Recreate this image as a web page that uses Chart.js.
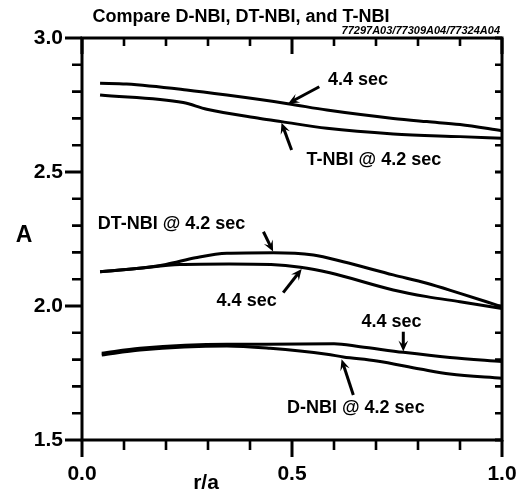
<!DOCTYPE html>
<html><head><meta charset="utf-8">
<script src="https://cdn.jsdelivr.net/npm/chart.js@4.4.1/dist/chart.umd.min.js"></script>
<style>html,body{margin:0;padding:0;background:#fff;}#wrap{width:521px;height:494px;}</style>
</head><body><div id="wrap"><canvas id="c" width="521" height="494"></canvas></div>
<script>
// ---------- text ----------
const chartTitle = 'Compare D-NBI, DT-NBI, and T-NBI';
const runCode = '77297A03/77309A04/77324A04';
const xAxisLabel = 'r/a';
const yAxisLabel = 'A';

// ---------- ticks ----------
const xMajorTicks = [0.0, 0.5, 1.0];
const yMajorTicks = [1.5, 2.0, 2.5, 3.0];
const xMinorTicks = [0.0, 0.1, 0.2, 0.3, 0.4, 0.5, 0.6, 0.7, 0.8, 0.9, 1.0];
const yMinorTicks = [1.5, 1.6, 1.7, 1.8, 1.9, 2.0, 2.1, 2.2, 2.3, 2.4, 2.5, 2.6, 2.7, 2.8, 2.9, 3.0];

// ---------- series (r/a, A) ----------
const tNbi44_r = [0.043, 0.106, 0.249, 0.345, 0.49, 0.583, 0.741, 0.821, 0.9, 1.0];
const tNbi44_A = [2.831, 2.828, 2.806, 2.787, 2.755, 2.731, 2.700, 2.688, 2.677, 2.654];

const tNbi42_r = [0.043, 0.241, 0.297, 0.424, 0.475, 0.583, 0.741, 0.9, 1.0];
const tNbi42_A = [2.787, 2.759, 2.734, 2.700, 2.688, 2.663, 2.642, 2.632, 2.626];

const dtNbi42_r = [0.043, 0.13, 0.2, 0.27, 0.345, 0.456, 0.551, 0.622, 0.741, 0.821, 0.9, 0.963, 1.0];
const dtNbi42_A = [2.128, 2.140, 2.155, 2.180, 2.197, 2.199, 2.190, 2.165, 2.116, 2.085, 2.047, 2.016, 1.997];

const dtNbi44_r = [0.043, 0.13, 0.233, 0.35, 0.45, 0.52, 0.59, 0.741, 0.821, 0.9, 1.0];
const dtNbi44_A = [2.128, 2.140, 2.155, 2.157, 2.155, 2.145, 2.124, 2.060, 2.035, 2.016, 1.991];

const dNbi44_r = [0.047, 0.138, 0.345, 0.44, 0.6, 0.662, 0.765, 0.876, 1.0];
const dNbi44_A = [1.824, 1.842, 1.857, 1.857, 1.859, 1.848, 1.827, 1.808, 1.793];

const dNbi42_r = [0.047, 0.138, 0.345, 0.448, 0.583, 0.622, 0.702, 0.805, 0.876, 1.0];
const dNbi42_A = [1.817, 1.836, 1.851, 1.842, 1.820, 1.810, 1.795, 1.765, 1.746, 1.730];

// ---------- annotations (text + arrow, in data units) ----------
const annotations = [
  {text: '4.4 sec',          at: [0.657, 2.843], tail: [0.565, 2.818], head: [0.491, 2.756]},
  {text: 'T-NBI @ 4.2 sec',  at: [0.695, 2.545], tail: [0.499, 2.582], head: [0.475, 2.684]},
  {text: 'DT-NBI @ 4.2 sec', at: [0.213, 2.306], tail: [0.432, 2.277], head: [0.455, 2.203]},
  {text: '4.4 sec',          at: [0.392, 2.019], tail: [0.479, 2.050], head: [0.523, 2.138]},
  {text: '4.4 sec',          at: [0.737, 1.941], tail: [0.765, 1.904], head: [0.765, 1.830]},
  {text: 'D-NBI @ 4.2 sec',  at: [0.652, 1.618], tail: [0.646, 1.668], head: [0.618, 1.801]}
];

const FONT = '"Liberation Sans", Arial, Helvetica, sans-serif';
const pts = (xs, ys) => xs.map((x, i) => ({x: x, y: ys[i]}));
const mkSet = (label, xs, ys) => ({
  label: label, data: pts(xs, ys), borderColor: '#000', borderWidth: 3,
  pointRadius: 0, fill: false, tension: 0.4, cubicInterpolationMode: 'monotone'
});

function drawArrow(ctx, x1, y1, x2, y2) {
  const ang = Math.atan2(y2 - y1, x2 - x1);
  const hl = 12, hw = 0.42;
  ctx.beginPath();
  ctx.moveTo(x1, y1);
  ctx.lineTo(x2 - Math.cos(ang) * 5, y2 - Math.sin(ang) * 5);
  ctx.stroke();
  ctx.beginPath();
  ctx.moveTo(x2, y2);
  ctx.lineTo(x2 - hl * Math.cos(ang - hw), y2 - hl * Math.sin(ang - hw));
  ctx.lineTo(x2 - hl * 0.55 * Math.cos(ang), y2 - hl * 0.55 * Math.sin(ang));
  ctx.lineTo(x2 - hl * Math.cos(ang + hw), y2 - hl * Math.sin(ang + hw));
  ctx.closePath();
  ctx.fill();
}

const framePlugin = {
  id: 'frame',
  beforeDraw(chart) {
    const ctx = chart.ctx;
    ctx.save();
    ctx.fillStyle = '#fff';
    ctx.fillRect(0, 0, chart.width, chart.height);
    ctx.restore();
  },
  afterDraw(chart) {
    const ctx = chart.ctx, a = chart.chartArea;
    const xs = chart.scales.x, ys = chart.scales.y;
    ctx.save();
    ctx.strokeStyle = '#000';
    ctx.fillStyle = '#000';
    ctx.lineCap = 'butt';
    // frame
    ctx.lineWidth = 3;
    ctx.beginPath();
    ctx.moveTo(a.left, a.top); ctx.lineTo(a.right, a.top);
    ctx.lineTo(a.right, a.bottom); ctx.lineTo(a.left, a.bottom);
    ctx.closePath();
    ctx.stroke();
    // y ticks
    yMinorTicks.forEach(v => {
      const y = ys.getPixelForValue(v);
      const major = yMajorTicks.some(m => Math.abs(m - v) < 1e-6);
      ctx.lineWidth = major ? 3 : 2.6;
      ctx.beginPath();
      ctx.moveTo(a.left, y); ctx.lineTo(a.left - (major ? 17 : 10), y);
      ctx.moveTo(a.right, y); ctx.lineTo(a.right - 7, y);
      ctx.stroke();
    });
    // x ticks
    xMinorTicks.forEach(v => {
      const x = xs.getPixelForValue(v);
      const major = xMajorTicks.some(m => Math.abs(m - v) < 1e-6);
      ctx.lineWidth = major ? 3 : 2.6;
      ctx.beginPath();
      ctx.moveTo(x, a.bottom); ctx.lineTo(x, a.bottom + (major ? 17 : 10));
      ctx.moveTo(x, a.top); ctx.lineTo(x, a.top + (major ? 16 : 8));
      ctx.stroke();
    });
    // titles
    ctx.textAlign = 'center';
    ctx.textBaseline = 'middle';
    ctx.font = 'bold 18px ' + FONT;
    ctx.fillText(chartTitle, 241, 17);
    ctx.font = 'bold 23px ' + FONT;
    ctx.fillText(yAxisLabel, 24, 236);
    ctx.font = 'bold 21px ' + FONT;
    ctx.fillText(xAxisLabel, 206, 483);
    ctx.font = 'italic bold 11px ' + FONT;
    ctx.textAlign = 'right';
    ctx.textBaseline = 'alphabetic';
    ctx.fillText(runCode, 500, 34, 172);
    // annotations
    ctx.font = 'bold 18px ' + FONT;
    ctx.textAlign = 'center';
    ctx.textBaseline = 'middle';
    ctx.lineWidth = 3;
    annotations.forEach(an => {
      ctx.fillText(an.text, xs.getPixelForValue(an.at[0]), ys.getPixelForValue(an.at[1]));
      drawArrow(ctx,
        xs.getPixelForValue(an.tail[0]), ys.getPixelForValue(an.tail[1]),
        xs.getPixelForValue(an.head[0]), ys.getPixelForValue(an.head[1]));
    });
    ctx.restore();
  }
};

new Chart(document.getElementById('c'), {
  type: 'line',
  data: {
    datasets: [
      mkSet('T-NBI 4.4 sec', tNbi44_r, tNbi44_A),
      mkSet('T-NBI 4.2 sec', tNbi42_r, tNbi42_A),
      mkSet('DT-NBI 4.2 sec', dtNbi42_r, dtNbi42_A),
      mkSet('DT-NBI 4.4 sec', dtNbi44_r, dtNbi44_A),
      mkSet('D-NBI 4.4 sec', dNbi44_r, dNbi44_A),
      mkSet('D-NBI 4.2 sec', dNbi42_r, dNbi42_A)
    ]
  },
  options: {
    responsive: false,
    devicePixelRatio: 1,
    animation: false,
    layout: {padding: {top: 38, right: 19, left: 0, bottom: 0}},
    plugins: {legend: {display: false}, tooltip: {enabled: false}, title: {display: false}},
    scales: {
      x: {
        type: 'linear', min: 0, max: 1,
        grid: {display: false, drawTicks: false},
        border: {display: false},
        afterBuildTicks: s => { s.ticks = xMajorTicks.map(v => ({value: v})); },
        afterFit: s => { s.height = 54; s.paddingLeft = 0; s.paddingRight = 0; },
        ticks: {
          autoSkip: false, maxRotation: 0, padding: 22, color: '#000',
          font: {family: FONT, size: 21, weight: 'bold'},
          callback: v => Number(v).toFixed(1)
        }
      },
      y: {
        type: 'linear', min: 1.5, max: 3.0,
        grid: {display: false, drawTicks: false},
        border: {display: false},
        afterBuildTicks: s => { s.ticks = yMajorTicks.map(v => ({value: v})); },
        afterFit: s => { s.width = 82; s.paddingTop = 0; s.paddingBottom = 0; },
        ticks: {
          autoSkip: false, padding: 19, color: '#000',
          font: {family: FONT, size: 21, weight: 'bold'},
          callback: v => Number(v).toFixed(1)
        }
      }
    }
  },
  plugins: [framePlugin]
});
</script>
</body></html>
